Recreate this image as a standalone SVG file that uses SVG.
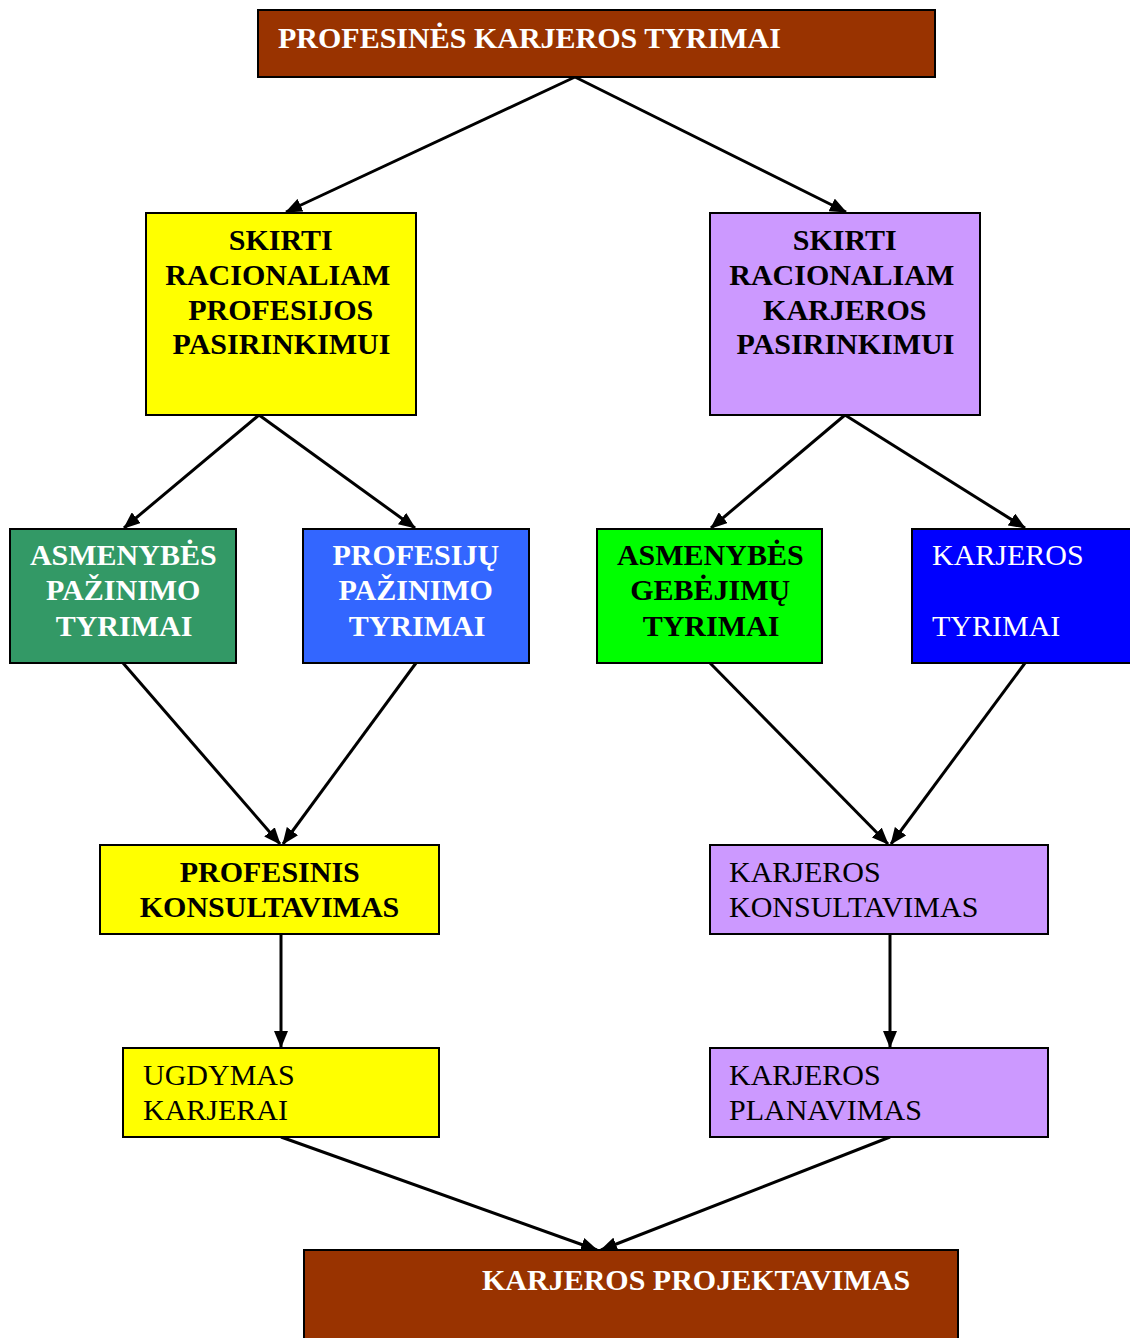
<svg xmlns="http://www.w3.org/2000/svg" width="1130" height="1338" viewBox="0 0 1130 1338">
  <style>
    .box { stroke: #000; stroke-width: 2; }
    .t { font-family: "Liberation Serif", "Times New Roman", serif; font-size: 30px; }
    .b { font-weight: bold; }
    .c { text-anchor: middle; }
    .w { fill: #fff; }
    .k { fill: #000; }
    .edge { stroke: #000; stroke-width: 3; fill: none; marker-end: url(#arrow); }
  </style>
  <defs>
    <marker id="arrow" markerUnits="userSpaceOnUse" markerWidth="17" markerHeight="14" refX="16" refY="7" orient="auto">
      <path d="M0,0 L17,7 L0,14 Z" fill="#000"/>
    </marker>
  </defs>
  <rect width="1130" height="1338" fill="#fff"/>

  <g id="connectors">
    <line class="edge" x1="575" y1="77" x2="286" y2="212"/>
    <line class="edge" x1="575" y1="77" x2="846" y2="212"/>
    <line class="edge" x1="259" y1="415" x2="124" y2="528"/>
    <line class="edge" x1="259" y1="415" x2="415" y2="528"/>
    <line class="edge" x1="845" y1="415" x2="711" y2="528"/>
    <line class="edge" x1="845" y1="415" x2="1025" y2="528"/>
    <line class="edge" x1="123" y1="663" x2="280" y2="844"/>
    <line class="edge" x1="416" y1="663" x2="283" y2="844"/>
    <line class="edge" x1="710" y1="663" x2="888" y2="844"/>
    <line class="edge" x1="1025" y1="663" x2="891" y2="844"/>
    <line class="edge" x1="281" y1="934" x2="281" y2="1047"/>
    <line class="edge" x1="890" y1="934" x2="890" y2="1047"/>
    <line class="edge" x1="281" y1="1137" x2="597" y2="1250"/>
    <line class="edge" x1="890" y1="1137" x2="601" y2="1250"/>
  </g>

  <g id="profesines-karjeros-tyrimai">
    <rect class="box" x="258" y="10" width="677" height="67" fill="#993300"/>
    <text class="t b w" x="278" y="48">PROFESINĖS KARJEROS TYRIMAI</text>
  </g>

  <g id="skirti-profesijos">
    <rect class="box" x="146" y="213" width="270" height="202" fill="#ffff00"/>
    <text class="t b k c">
      <tspan x="284.5" y="250">SKIRTI</tspan>
      <tspan x="281.5" y="285">RACIONALIAM</tspan>
      <tspan x="284.5" y="320">PROFESIJOS</tspan>
      <tspan x="281.5" y="354">PASIRINKIMUI</tspan>
    </text>
  </g>

  <g id="skirti-karjeros">
    <rect class="box" x="710" y="213" width="270" height="202" fill="#cc99ff"/>
    <text class="t b k c">
      <tspan x="848.5" y="250">SKIRTI</tspan>
      <tspan x="845.5" y="285">RACIONALIAM</tspan>
      <tspan x="848.5" y="320">KARJEROS</tspan>
      <tspan x="845.5" y="354">PASIRINKIMUI</tspan>
    </text>
  </g>

  <g id="asmenybes-pazinimo">
    <rect class="box" x="10" y="529" width="226" height="134" fill="#339966"/>
    <text class="t b w c">
      <tspan x="127" y="565">ASMENYBĖS</tspan>
      <tspan x="127" y="600">PAŽINIMO</tspan>
      <tspan x="124" y="636">TYRIMAI</tspan>
    </text>
  </g>

  <g id="profesiju-pazinimo">
    <rect class="box" x="303" y="529" width="226" height="134" fill="#3366ff"/>
    <text class="t b w c">
      <tspan x="419.5" y="565">PROFESIJŲ</tspan>
      <tspan x="419.5" y="600">PAŽINIMO</tspan>
      <tspan x="417" y="636">TYRIMAI</tspan>
    </text>
  </g>

  <g id="asmenybes-gebejimu">
    <rect class="box" x="597" y="529" width="225" height="134" fill="#00ff00"/>
    <text class="t b k c">
      <tspan x="714" y="565">ASMENYBĖS</tspan>
      <tspan x="714" y="600">GEBĖJIMŲ</tspan>
      <tspan x="711" y="636">TYRIMAI</tspan>
    </text>
  </g>

  <g id="karjeros-tyrimai">
    <rect class="box" x="912" y="529" width="230" height="134" fill="#0000ff"/>
    <text class="t w">
      <tspan x="932" y="565">KARJEROS</tspan>
      <tspan x="932" y="636">TYRIMAI</tspan>
    </text>
  </g>

  <g id="profesinis-konsultavimas">
    <rect class="box" x="100" y="845" width="339" height="89" fill="#ffff00"/>
    <text class="t b k c">
      <tspan x="273.5" y="882">PROFESINIS</tspan>
      <tspan x="269.5" y="917">KONSULTAVIMAS</tspan>
    </text>
  </g>

  <g id="karjeros-konsultavimas">
    <rect class="box" x="710" y="845" width="338" height="89" fill="#cc99ff"/>
    <text class="t k">
      <tspan x="729" y="882">KARJEROS</tspan>
      <tspan x="729" y="917">KONSULTAVIMAS</tspan>
    </text>
  </g>

  <g id="ugdymas-karjerai">
    <rect class="box" x="123" y="1048" width="316" height="89" fill="#ffff00"/>
    <text class="t k">
      <tspan x="143" y="1085">UGDYMAS</tspan>
      <tspan x="143" y="1120">KARJERAI</tspan>
    </text>
  </g>

  <g id="karjeros-planavimas">
    <rect class="box" x="710" y="1048" width="338" height="89" fill="#cc99ff"/>
    <text class="t k">
      <tspan x="729" y="1085">KARJEROS</tspan>
      <tspan x="729" y="1120">PLANAVIMAS</tspan>
    </text>
  </g>

  <g id="karjeros-projektavimas">
    <rect class="box" x="304" y="1250" width="654" height="100" fill="#993300"/>
    <text class="t b w" x="482" y="1290">KARJEROS PROJEKTAVIMAS</text>
  </g>
</svg>
